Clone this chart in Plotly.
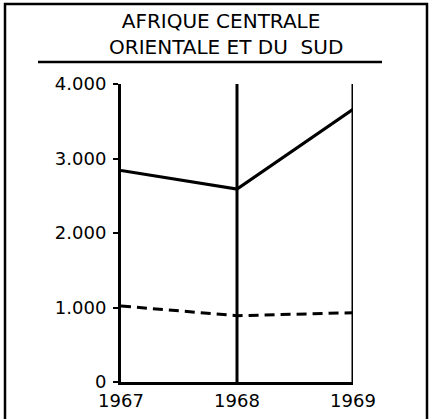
import plotly.graph_objects as go

years = [1967, 1968, 1969]
solid_values = [2840, 2590, 3660]
dashed_values = [1020, 890, 930]
y_tick_vals = [0, 1000, 2000, 3000, 4000]
y_tick_text = ["0", "1.000", "2.000", "3.000", "4.000"]
title_line1 = "\u00a0\u00a0AFRIQUE CENTRALE"
title_line2 = "ORIENTALE ET DU\u00a0\u00a0SUD"

W, H = 429, 419
L, R, T, B = 121, 76, 84, 37
pw, ph = W - L - R, H - T - B

def px(x):
    return (x - L) / pw

def py(y):
    return (H - B - y) / ph

fig = go.Figure()
fig.add_trace(go.Scatter(x=years, y=solid_values, mode="lines",
                         line=dict(color="black", width=3), showlegend=False))
fig.add_trace(go.Scatter(x=years, y=dashed_values, mode="lines",
                         line=dict(color="black", width=3, dash="10px,6px"), showlegend=False))

font = dict(family="DejaVu Sans, Liberation Sans, Arial, sans-serif", color="black")

shapes = [
    dict(type="path", xref="paper", yref="paper",
         path=f"M {px(5)} {py(425)} L {px(5)} {py(4)} L {px(427)} {py(4)} L {px(427)} {py(425)}",
         line=dict(color="black", width=2.5)),
    dict(type="line", xref="paper", yref="paper",
         x0=px(38), x1=px(382), y0=py(62), y1=py(62),
         line=dict(color="black", width=2.5)),
]
for yr in years[1:]:
    shapes.append(dict(type="line", xref="x", yref="paper", x0=yr, x1=yr, y0=0, y1=1,
                       line=dict(color="black", width=3)))

fig.update_layout(
    width=W, height=H,
    margin=dict(l=L, r=R, t=T, b=B, pad=0, autoexpand=False),
    paper_bgcolor="white", plot_bgcolor="white",
    xaxis=dict(range=[years[0], years[-1]], tickvals=years, ticktext=[str(y) for y in years],
               showgrid=False, automargin=False,
               showline=True, linecolor="black", linewidth=3,
               ticks="", ticklabelstandoff=0,
               tickfont=dict(size=18, **font), zeroline=False),
    yaxis=dict(range=[0, 4000], tickvals=y_tick_vals, ticktext=y_tick_text,
               showgrid=False, showline=True, linecolor="black", linewidth=3,
               ticks="outside", ticklen=5, tickwidth=2, tickcolor="black",
               ticklabelstandoff=3, automargin=False,
               tickfont=dict(size=18, **font), zeroline=False),
    shapes=shapes,
    annotations=[
        dict(text=title_line1 + "<br>" + title_line2, xref="paper", yref="paper",
             x=px(107), y=py(34.5), align="left",
             showarrow=False, font=dict(size=20, **font), xanchor="left", yanchor="middle"),
    ],
)

fig.write_html("out.html", config={"displayModeBar": False},
               post_script="document.body.style.margin='0';")
